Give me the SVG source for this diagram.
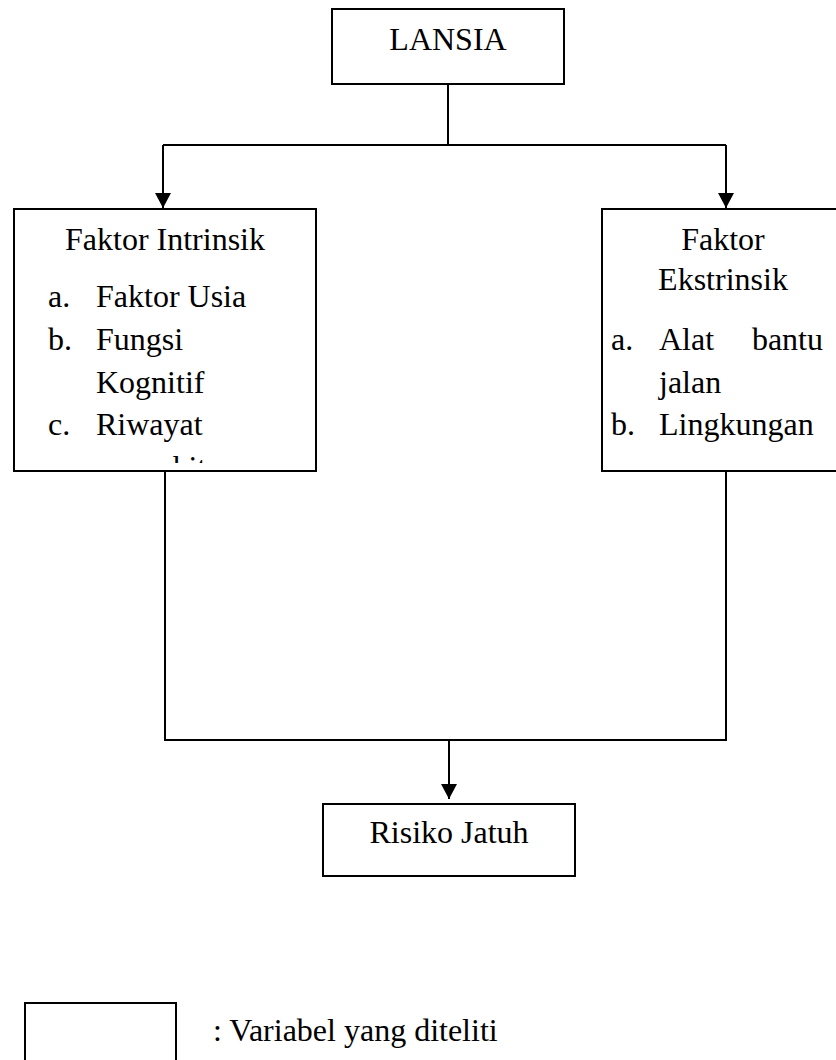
<svg xmlns="http://www.w3.org/2000/svg" width="836" height="1060" viewBox="0 0 836 1060">
<style>
.box{fill:#fff;stroke:#000;stroke-width:2}
.t{font-family:'Liberation Serif',serif;font-size:32px;fill:#000}
.c{text-anchor:middle}
.ln{fill:none;stroke:#000;stroke-width:2}
</style>
<defs>
<marker id="ah" viewBox="0 0 15 16" refX="15" refY="8" markerWidth="15" markerHeight="16" markerUnits="userSpaceOnUse" orient="auto">
<path d="M0,0 L15,8 L0,16 Z" fill="#000"/>
</marker>
<clipPath id="clipI"><rect x="15" y="210" width="300" height="253"/></clipPath>
</defs>
<rect width="836" height="1060" fill="#fff"/>
<g id="connectors">
<polyline class="ln" points="448,84 448,145"/>
<polyline class="ln" points="163,145 726,145"/>
<line class="ln" x1="163" y1="145" x2="163" y2="208" marker-end="url(#ah)"/>
<line class="ln" x1="726" y1="145" x2="726" y2="208" marker-end="url(#ah)"/>
<polyline class="ln" points="165,471 165,740 726,740 726,471"/>
<line class="ln" x1="449" y1="740" x2="449" y2="799" marker-end="url(#ah)"/>
</g>
<g id="lansia">
<rect class="box" x="332" y="9" width="232" height="75"/>
<text class="t c" x="448" y="50">LANSIA</text>
</g>
<g id="intrinsik">
<rect class="box" x="14" y="209" width="302" height="262"/>
<g clip-path="url(#clipI)">
<text class="t c" x="165" y="250">Faktor Intrinsik</text>
<text class="t" x="48" y="307">a.</text><text class="t" x="96" y="307">Faktor Usia</text>
<text class="t" x="48" y="350">b.</text><text class="t" x="96" y="350">Fungsi</text>
<text class="t" x="96" y="393">Kognitif</text>
<text class="t" x="48" y="435">c.</text><text class="t" x="96" y="435">Riwayat</text>
<text class="t" x="96" y="478">penyakit</text>
</g>
</g>
<g id="ekstrinsik">
<rect class="box" x="602" y="209" width="250" height="262"/>
<text class="t c" x="723" y="250">Faktor</text>
<text class="t c" x="723" y="290">Ekstrinsik</text>
<text class="t" x="611" y="350">a.</text><text class="t" x="659" y="350">Alat</text><text class="t" x="823" y="350" text-anchor="end">bantu</text>
<text class="t" x="659" y="393">jalan</text>
<text class="t" x="611" y="435">b.</text><text class="t" x="659" y="435">Lingkungan</text>
</g>
<g id="risiko">
<rect class="box" x="323" y="804" width="252" height="72"/>
<text class="t c" x="449" y="843">Risiko Jatuh</text>
</g>
<g id="legend">
<rect class="box" x="25" y="1003" width="151" height="70"/>
<text class="t" x="213" y="1041">: Variabel yang diteliti</text>
</g>
</svg>
